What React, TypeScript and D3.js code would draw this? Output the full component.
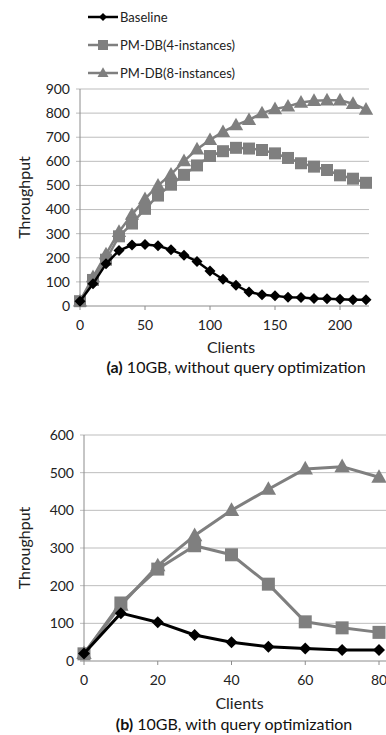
import React, { useEffect, useRef } from 'react'
import * as d3 from 'd3'

// chart (a): 10GB, without query optimization
const clientsA = [0, 10, 20, 30, 40, 50, 60, 70, 80, 90, 100, 110, 120, 130, 140, 150, 160, 170, 180, 190, 200, 210, 220]
const baselineA = [20, 92, 175, 230, 253, 255, 250, 233, 211, 185, 145, 111, 86, 58, 47, 42, 36, 35, 31, 30, 28, 26, 26]
const pm4A = [20, 108, 192, 289, 342, 403, 458, 503, 544, 583, 622, 642, 656, 653, 647, 633, 614, 592, 578, 564, 542, 528, 511]
const pm8A = [20, 120, 215, 308, 379, 444, 500, 546, 601, 650, 689, 722, 750, 772, 800, 817, 828, 844, 851, 853, 853, 839, 815]
const yTicksA = [0, 100, 200, 300, 400, 500, 600, 700, 800, 900]
const xTicksA = [0, 50, 100, 150, 200]

// chart (b): 10GB, with query optimization
const clientsB = [0, 10, 20, 30, 40, 50, 60, 70, 80]
const baselineB = [20, 127, 103, 69, 50, 38, 33, 29, 29]
const pm4B = [19, 154, 244, 306, 282, 204, 104, 88, 76]
const pm8B = [20, 148, 253, 333, 400, 456, 510, 516, 488]
const yTicksB = [0, 100, 200, 300, 400, 500, 600]
const xTicksB = [0, 20, 40, 60, 80]

const seriesNames = ['Baseline', 'PM-DB(4-instances)', 'PM-DB(8-instances)']
const markers = ['diamond', 'square', 'triangle']
const colors = ['#000000', '#7f7f7f', '#7f7f7f']

const FONT = 'Lato, "Open Sans", sans-serif'

function markerPath(kind, s) {
  if (kind === 'diamond') return `M0,${-s}L${s},0L0,${s}L${-s},0Z`
  if (kind === 'square') return `M${-s},${-s}H${s}V${s}H${-s}Z`
  return `M0,${-s * 1.15}L${s * 1.1},${s * 0.8}L${-s * 1.1},${s * 0.8}Z`
}

function drawPanel(svg, cfg) {
  const { x, y, clients, series, yTicks, xTicks, gridRight, sizes, lw, caption, captionBold, labelY, clientsY, captionY, ytitleX } = cfg
  const g = svg.append('g')
  const x0 = x.range()[0]
  const yBottom = y.range()[0]

  // gridlines
  g.selectAll('line.grid')
    .data(yTicks)
    .enter()
    .append('line')
    .attr('x1', x0 - 4)
    .attr('x2', gridRight)
    .attr('y1', (d) => y(d))
    .attr('y2', (d) => y(d))
    .style('stroke', (d) => (d === 0 ? '#8c8c8c' : '#bdbdbd'))
    .style('stroke-width', 1)

  // y axis line
  g.append('line')
    .attr('x1', x0).attr('x2', x0)
    .attr('y1', y(yTicks[yTicks.length - 1])).attr('y2', yBottom)
    .style('stroke', '#8c8c8c')

  // x tick marks
  g.selectAll('line.xt')
    .data(xTicks)
    .enter()
    .append('line')
    .attr('x1', (d) => x(d)).attr('x2', (d) => x(d))
    .attr('y1', yBottom).attr('y2', yBottom + 4)
    .style('stroke', '#8c8c8c')

  // y tick labels
  g.selectAll('text.yl')
    .data(yTicks)
    .enter()
    .append('text')
    .attr('x', x0 - 10)
    .attr('y', (d) => y(d))
    .attr('dy', '0.35em')
    .attr('text-anchor', 'end')
    .style('font-family', FONT)
    .style('font-size', '14px')
    .style('fill', '#222')
    .text((d) => d)

  // x tick labels
  g.selectAll('text.xl')
    .data(xTicks)
    .enter()
    .append('text')
    .attr('x', (d) => x(d))
    .attr('y', labelY)
    .attr('dy', '0.35em')
    .attr('text-anchor', 'middle')
    .style('font-family', FONT)
    .style('font-size', '14px')
    .style('fill', '#222')
    .text((d) => d)

  // axis titles
  g.append('text')
    .attr('transform', `translate(${ytitleX}, ${(y.range()[0] + y.range()[1]) / 2}) rotate(-90)`)
    .attr('text-anchor', 'middle')
    .attr('dy', '0.35em')
    .style('font-family', FONT)
    .style('font-size', '16px')
    .style('fill', '#222')
    .text('Throughput')

  g.append('text')
    .attr('x', (x.range()[0] + x.range()[1]) / 2 + 8)
    .attr('y', clientsY)
    .attr('dy', '0.35em')
    .attr('text-anchor', 'middle')
    .style('font-family', FONT)
    .style('font-size', '16px')
    .style('fill', '#222')
    .text('Clients')

  const cap = g.append('text')
    .attr('x', cfg.captionX)
    .attr('y', captionY)
    .attr('dy', '0.35em')
    .attr('text-anchor', 'middle')
    .style('font-family', FONT)
    .style('font-size', '16px')
    .style('fill', '#111')
  cap.append('tspan').style('font-weight', 'bold').text(captionBold)
  cap.append('tspan').text(' ' + caption)

  const line = d3.line()
    .x((d) => x(d[0]))
    .y((d) => y(d[1]))

  // draw 8-instances first, baseline last
  ;[2, 1, 0].forEach((si) => {
    const pts = clients.map((c, i) => [c, series[si][i]])
    g.append('path')
      .attr('d', line(pts))
      .style('fill', 'none')
      .style('stroke', colors[si])
      .style('stroke-width', lw)
      .style('stroke-linejoin', 'round')
    g.selectAll('path.m' + si)
      .data(pts)
      .enter()
      .append('path')
      .attr('d', markerPath(markers[si], sizes[si]))
      .attr('transform', (d) => `translate(${x(d[0])}, ${y(d[1])})`)
      .style('fill', colors[si])
  })
}

function App() {
  const ref = useRef(null)

  useEffect(() => {
    const svg = d3.select(ref.current)
    svg.selectAll('*').remove()

    // legend
    const legend = svg.append('g')
      .selectAll('g.legend')
      .data(seriesNames)
      .enter()
      .append('g')
      .attr('transform', (d, i) => `translate(0, ${17 + i * 28})`)
    legend.append('line')
      .attr('x1', 88).attr('x2', 118)
      .style('stroke', (d, i) => colors[i])
      .style('stroke-width', 2.5)
    legend.append('path')
      .attr('d', (d, i) => markerPath(markers[i], i === 0 ? 4 : 5))
      .attr('transform', 'translate(103, 0)')
      .style('fill', (d, i) => colors[i])
    legend.append('text')
      .attr('x', 120)
      .attr('dy', '0.35em')
      .style('font-family', FONT)
      .style('font-size', '13px')
      .style('fill', '#222')
      .text((d) => d)

    drawPanel(svg, {
      x: d3.scaleLinear().domain([0, 220]).range([80, 366]),
      y: d3.scaleLinear().domain([0, 900]).range([306, 89]),
      clients: clientsA,
      series: [baselineA, pm4A, pm8A],
      yTicks: yTicksA,
      xTicks: xTicksA,
      gridRight: 369,
      sizes: [5.5, 6, 6.5],
      lw: 2.5,
      captionBold: '(a)',
      caption: '10GB, without query optimization',
      labelY: 325,
      clientsY: 347,
      captionY: 367,
      captionX: 236,
      ytitleX: 24,
    })

    drawPanel(svg, {
      x: d3.scaleLinear().domain([0, 80]).range([84, 379]),
      y: d3.scaleLinear().domain([0, 600]).range([661, 435]),
      clients: clientsB,
      series: [baselineB, pm4B, pm8B],
      yTicks: yTicksB,
      xTicks: xTicksB,
      gridRight: 400,
      sizes: [6, 6.5, 7],
      lw: 3,
      captionBold: '(b)',
      caption: '10GB, with query optimization',
      labelY: 680,
      clientsY: 703,
      captionY: 724,
      captionX: 234,
      ytitleX: 24,
    })
  }, [])

  return (
    <svg
      ref={ref}
      width={386}
      height={735}
      style={{ position: 'absolute', left: 0, top: 0, background: 'white' }}
    />
  )
}

export default App
